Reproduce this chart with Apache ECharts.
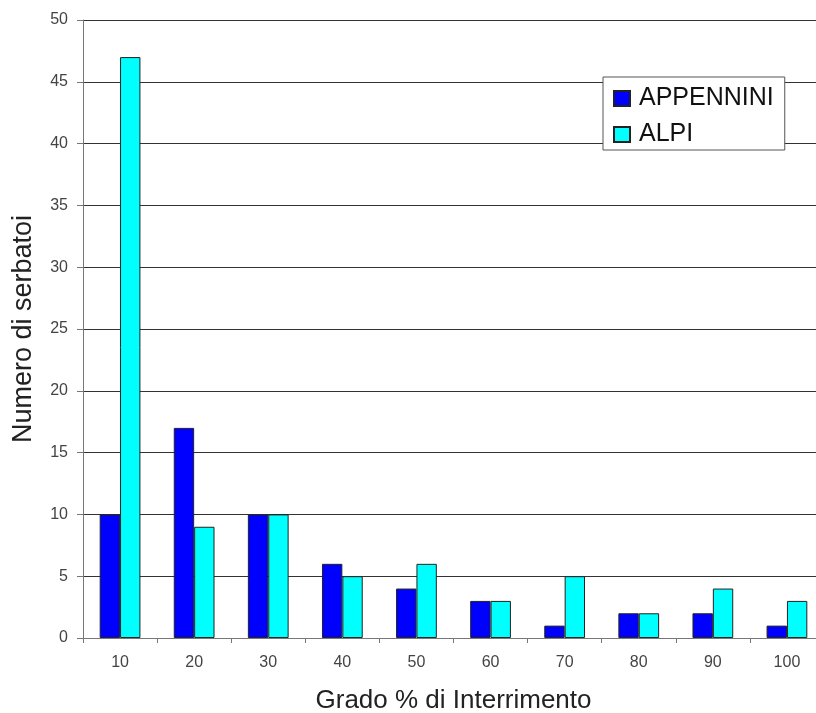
<!DOCTYPE html>
<html>
<head>
<meta charset="utf-8">
<script src="https://cdn.jsdelivr.net/npm/echarts@6/dist/echarts.min.js"></script>
<style>
  html, body { margin: 0; padding: 0; background: #fff; }
  #chart { width: 816px; height: 713px; }
</style>
</head>
<body>
<div id="chart"></div>
<script>
// Grado % di interrimento (classes) and number of reservoirs per area
const categories = ['10', '20', '30', '40', '50', '60', '70', '80', '90', '100'];
const appennini = [10, 17, 10, 6, 4, 3, 1, 2, 2, 1];
const alpi = [47, 9, 10, 5, 6, 3, 5, 2, 4, 3];
const yTicks = [0, 5, 10, 15, 20, 25, 30, 35, 40, 45, 50];

const font = 'Liberation Sans, Arial, sans-serif';
const chart = echarts.init(document.getElementById('chart'), null, { renderer: 'canvas' });

chart.setOption({
  animation: false,
  backgroundColor: '#ffffff',
  // plot area runs slightly past the right edge of the canvas
  grid: {
    left: 83, width: 741, top: 20, height: 618,
    containLabel: false,
    outerBoundsMode: 'none'
  },
  legend: {
    orient: 'vertical',
    left: 603,
    top: 77,
    icon: 'rect',
    itemWidth: 16,
    itemHeight: 15,
    itemGap: 11,
    padding: [9, 11, 3, 10],
    borderColor: '#555',
    borderWidth: 1,
    backgroundColor: '#fff',
    textStyle: { fontFamily: font, fontSize: 25, color: '#111', padding: [0, 0, 0, 4] },
    data: ['APPENNINI', 'ALPI']
  },
  xAxis: {
    type: 'category',
    data: categories,
    name: 'Grado % di Interrimento',
    nameLocation: 'middle',
    nameGap: 50,
    nameTextStyle: { fontFamily: font, fontSize: 26, color: '#222' },
    axisLine: { lineStyle: { color: '#777', width: 1 } },
    axisTick: { show: true, alignWithLabel: false, length: 5, lineStyle: { color: '#777' } },
    axisLabel: { fontFamily: font, fontSize: 16, color: '#444', margin: 17 }
  },
  yAxis: {
    type: 'value',
    min: yTicks[0],
    max: yTicks[yTicks.length - 1],
    interval: 5,
    name: 'Numero di serbatoi',
    nameLocation: 'middle',
    nameGap: 46,
    nameTextStyle: { fontFamily: font, fontSize: 27, color: '#222' },
    axisLine: { show: true, lineStyle: { color: '#777', width: 1 } },
    axisTick: { show: true, length: 6, lineStyle: { color: '#777' } },
    axisLabel: { fontFamily: font, fontSize: 16, color: '#444', margin: 15 },
    splitLine: { show: true, lineStyle: { color: '#333', width: 1 } }
  },
  series: [
    {
      name: 'APPENNINI',
      type: 'bar',
      data: appennini,
      barGap: '0%',
      barCategoryGap: '45%',
      itemStyle: { color: '#0000ff', borderColor: '#222', borderWidth: 1 }
    },
    {
      name: 'ALPI',
      type: 'bar',
      data: alpi,
      barGap: '0%',
      barCategoryGap: '45%',
      itemStyle: { color: '#00ffff', borderColor: '#222', borderWidth: 1 }
    }
  ]
});
</script>
</body>
</html>
